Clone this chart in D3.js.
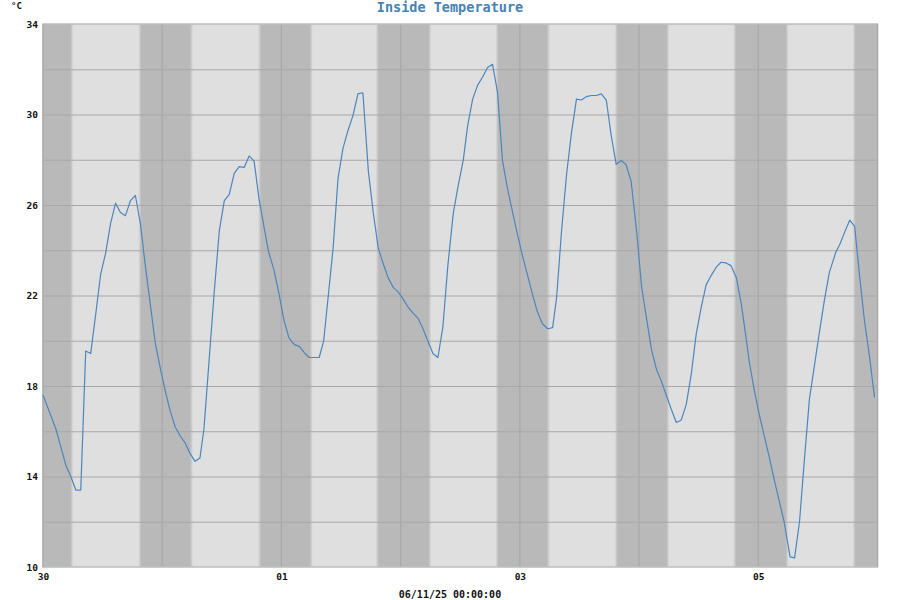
<!DOCTYPE html>
<html>
<head>
<meta charset="utf-8">
<script src="https://cdn.jsdelivr.net/npm/d3@7"></script>
<style>
html,body{margin:0;padding:0;background:#fff;}
svg{display:block;}
text{font-family:"DejaVu Sans Mono",monospace;font-weight:bold;}
</style>
</head>
<body>
<svg id="chart" width="900" height="600"></svg>
<script>
// ---- data ----
const title = "Inside Temperature";
const unitLabel = "°C";
const bottomLabel = "06/11/25 00:00:00";
const startTime = Date.UTC(2025, 9, 30);   // 30 Oct 2025 00:00
const endTime = Date.UTC(2025, 10, 6);     // 06 Nov 2025 00:00
// hours since start
const hours = [0,2.6,4.6,5.6,6.6,7.6,8.6,9.6,10.6,11.6,12.6,13.6,14.6,15.6,16.6,17.6,18.6,19.6,20.6,21.6,22.6,23.6,24.6,25.6,26.6,27.6,28.6,29.6,30.6,31.6,32.4,34.5,35.5,36.5,37.5,38.5,39.5,40.5,41.5,42.5,43.5,44.5,45.4,46.5,47.5,48.5,49.5,50.6,51.6,52.6,53.6,55.6,56.5,57.4,58.4,59.4,60.4,61.4,62.4,63.4,64.4,65.5,66.5,67.5,68.5,69.5,70.5,71.5,72.5,73.5,74.5,75.5,76.5,77.5,78.5,79.5,80.5,81.5,82.6,83.6,84.6,85.5,86.5,87.5,88.5,89.5,90.5,91.5,92.5,93.5,94.5,95.5,96.5,97.5,98.5,99.5,100.5,101.6,102.6,103.4,104.4,105.4,106.4,107.4,108.4,109.4,110.4,111.4,112.4,113.4,114.4,115.4,116.4,117.4,118.4,119.5,120.5,121.5,122.5,123.5,124.5,125.5,126.5,127.5,128.5,129.5,130.5,131.5,132.5,133.5,134.5,135.5,136.5,137.5,138.5,139.6,140.6,141.4,142.2,143.2,144.2,145.2,146.2,147.2,148.2,149.2,150.4,151.3,152.3,153.3,154.3,155.3,156.3,157.3,158.3,159.6,160.4,161.4,162.4,163.4,164.4,165.4,166.4,167.4];
const temps = [17.6,16.1,14.5,14.0,13.4,13.4,19.55,19.44,21.15,22.93,23.86,25.18,26.08,25.67,25.53,26.19,26.42,25.18,23.32,21.61,19.9,18.8,17.8,16.9,16.2,15.8,15.49,15.02,14.67,14.82,16.1,22.23,24.87,26.19,26.47,27.4,27.7,27.66,28.17,27.94,26.26,25.02,23.94,23.13,22.08,20.91,20.14,19.83,19.75,19.47,19.26,19.26,19.98,21.92,24.09,27.19,28.51,29.29,29.95,30.91,30.96,27.5,25.64,24.09,23.4,22.78,22.36,22.16,21.84,21.49,21.22,20.99,20.53,19.98,19.44,19.26,20.6,23.32,25.64,26.88,27.97,29.52,30.68,31.3,31.66,32.08,32.22,30.99,27.97,26.73,25.72,24.71,23.78,22.93,22.08,21.3,20.76,20.53,20.58,21.92,24.87,27.35,29.21,30.68,30.64,30.79,30.84,30.84,30.91,30.64,29.05,27.8,27.97,27.78,27.04,24.87,22.39,20.99,19.6,18.74,18.2,17.58,16.96,16.39,16.5,17.19,18.51,20.29,21.46,22.47,22.88,23.24,23.47,23.44,23.32,22.78,21.6,20.35,19.05,17.81,16.73,15.8,14.87,13.86,12.93,12.0,10.45,10.4,12.0,14.79,17.43,18.9,20.37,21.77,23.01,23.91,24.25,24.8,25.33,25.05,22.85,20.84,19.29,17.5];
// daylight (hours after local midnight) for each of the 7 days
const sunriseHours = [5.8,5.9,6.0,5.9,5.75,5.8,5.8];
const sunsetHours = [19.5,19.6,19.3,19.4,19.4,19.25,19.3];
const yTicks = [10,14,18,22,26,30,34];
const yGrid = [12,14,16,18,20,22,24,26,28,30,32];
const xLabelDates = [Date.UTC(2025,9,30), Date.UTC(2025,10,1), Date.UTC(2025,10,3), Date.UTC(2025,10,5)];

// ---- layout ----
const L = 43, R = 877.5, T = 24, B = 567;
const HOUR = 3600e3;
const svg = d3.select("#chart");
const x = d3.scaleUtc().domain([new Date(startTime), new Date(endTime)]).range([L, R]);
const y = d3.scaleLinear().domain([10, 34]).range([B, T]);
const dark = "#b9b9b9", light = "#dfdfdf", grid = "#a8a8a8";

// background (night)
svg.append("rect").attr("x", L).attr("y", T).attr("width", R - L).attr("height", B - T).attr("fill", dark);

// day bands with soft edges
const defs = svg.append("defs");
const fade = 3;
sunriseHours.forEach((sr, i) => {
  const x0 = x(new Date(startTime + (i * 24 + sr) * HOUR));
  const x1 = Math.min(R, x(new Date(startTime + (i * 24 + sunsetHours[i]) * HOUR)));
  const gx0 = x0 - fade / 2, gx1 = x1 + fade / 2;
  const w = gx1 - gx0;
  const g = defs.append("linearGradient").attr("id", "day" + i)
    .attr("gradientUnits", "userSpaceOnUse").attr("x1", gx0).attr("x2", gx1).attr("y1", 0).attr("y2", 0);
  g.append("stop").attr("offset", 0).attr("stop-color", dark);
  g.append("stop").attr("offset", fade / w).attr("stop-color", light);
  g.append("stop").attr("offset", 1 - fade / w).attr("stop-color", light);
  g.append("stop").attr("offset", 1).attr("stop-color", dark);
  svg.append("rect").attr("x", gx0).attr("y", T).attr("width", Math.min(w, R - gx0)).attr("height", B - T)
    .attr("fill", `url(#day${i})`);
});

// grid lines
svg.append("g").selectAll("line").data(yGrid).join("line")
  .attr("x1", L).attr("x2", R).attr("y1", d => y(d) + 0.5).attr("y2", d => y(d) + 0.5)
  .attr("stroke", grid).attr("stroke-width", 1.2);
const dayTicks = d3.utcDay.range(new Date(startTime + 1), new Date(endTime));
svg.append("g").selectAll("line").data(dayTicks).join("line")
  .attr("x1", d => x(d)).attr("x2", d => x(d)).attr("y1", T).attr("y2", B)
  .attr("stroke", grid).attr("stroke-width", 1.2);

// border
svg.append("rect").attr("x", L).attr("y", T).attr("width", R - L).attr("height", B - T)
  .attr("fill", "none").attr("stroke", "#bdbdbd").attr("stroke-width", 1.5);
svg.append("line").attr("x1", L).attr("x2", L).attr("y1", T).attr("y2", B).attr("stroke", grid).attr("stroke-width", 1.2);
svg.append("line").attr("x1", R).attr("x2", R).attr("y1", T).attr("y2", B).attr("stroke", grid).attr("stroke-width", 1.2);

// temperature line
const pts = hours.map((h, i) => [new Date(startTime + h * HOUR), temps[i]]);
svg.append("path").datum(pts)
  .attr("d", d3.line().x(d => x(d[0])).y(d => y(d[1])))
  .attr("fill", "none").attr("stroke", "#4a86bf").attr("stroke-width", 1.2).attr("stroke-linejoin", "round");

// axes
const yAxis = svg.append("g").attr("transform", `translate(${L},0)`)
  .call(d3.axisLeft(y).tickValues(yTicks).tickSize(0).tickPadding(5).tickFormat(d3.format("d")));
yAxis.select(".domain").remove();
yAxis.selectAll("text").attr("font-size", 9.5).attr("font-family", "DejaVu Sans Mono").attr("font-weight", "bold").attr("fill", "#111");

const xAxis = svg.append("g").attr("transform", `translate(0,${B})`)
  .call(d3.axisBottom(x).tickValues(xLabelDates.map(d => new Date(d))).tickSize(0).tickPadding(6).tickFormat(d3.utcFormat("%d")));
xAxis.select(".domain").remove();
xAxis.selectAll("text").attr("font-size", 9.5).attr("font-family", "DejaVu Sans Mono").attr("font-weight", "bold").attr("fill", "#111");

// labels
svg.append("text").attr("x", 450).attr("y", 12).attr("text-anchor", "middle")
  .attr("font-size", 13.5).attr("fill", "#4682b4").text(title);
svg.append("text").attr("x", 11).attr("y", 8.5).attr("font-size", 9).attr("fill", "#111").text(unitLabel);
svg.append("text").attr("x", 450).attr("y", 598).attr("text-anchor", "middle")
  .attr("font-size", 10).attr("fill", "#111").text(bottomLabel);
</script>
</body>
</html>
